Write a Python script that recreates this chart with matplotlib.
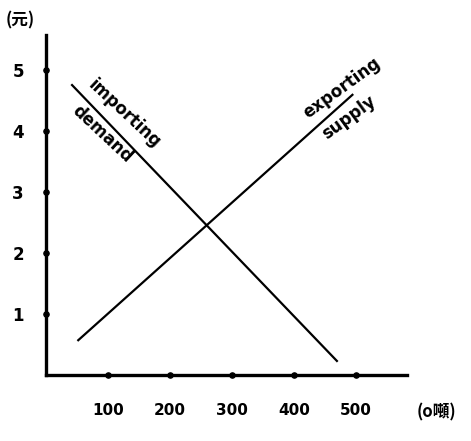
import matplotlib
matplotlib.use('Agg')
import matplotlib.pyplot as plt

plt.rcParams['font.family'] = ['DejaVu Sans', 'Noto Sans CJK TC']

# values
price_ticks = [1, 2, 3, 4, 5]
qty_ticks = [100, 200, 300, 400, 500]
demand_q = [42, 469]
demand_p = [4.75, 0.23]
supply_q = [52, 494]
supply_p = [0.57, 4.59]

fig = plt.figure(figsize=(4.71, 4.41), dpi=100)
ax = fig.add_axes([46 / 471, 66 / 441, 361 / 471, 340 / 441])

ax.plot(demand_q, demand_p, color='black', lw=1.6)
ax.plot(supply_q, supply_p, color='black', lw=1.6)

# dots on the axes where the ticks are
ax.scatter([0] * len(price_ticks), price_ticks, s=14, color='black', clip_on=False, zorder=5)
ax.scatter(qty_ticks, [0] * len(qty_ticks), s=14, color='black', clip_on=False, zorder=5)

ax.set_xlim(0, 582)
ax.set_ylim(0, 5.57)
for s in ('top', 'right'):
    ax.spines[s].set_visible(False)
for s in ('left', 'bottom'):
    ax.spines[s].set_linewidth(2.4)

ax.set_xticks(qty_ticks)
ax.set_yticks(price_ticks)
ax.tick_params(length=0, labelsize=12)
ax.tick_params(axis='x', pad=20, labelsize=11)
ax.tick_params(axis='y', pad=16)
for lab in ax.get_xticklabels() + ax.get_yticklabels():
    lab.set_fontweight('bold')

fig.text(20 / 471, 1 - 20 / 441, '(元)', fontsize=12, fontweight='bold',
         ha='center', va='center', family=['Noto Sans CJK TC', 'DejaVu Sans'])
fig.text(436 / 471, 1 - 412 / 441, '(o噸)', fontsize=12, fontweight='bold',
         ha='center', va='center', family=['Noto Sans CJK TC', 'DejaVu Sans'])

ax.text(126, 4.28, 'importing', rotation=-43, fontsize=12, fontweight='bold',
        ha='center', va='center', rotation_mode='anchor')
ax.text(90, 3.95, 'demand', rotation=-43, fontsize=12, fontweight='bold',
        ha='center', va='center', rotation_mode='anchor')
ax.text(477, 4.70, 'exporting', rotation=36, fontsize=12, fontweight='bold',
        ha='center', va='center', rotation_mode='anchor')
ax.text(489, 4.21, 'supply', rotation=36, fontsize=12, fontweight='bold',
        ha='center', va='center', rotation_mode='anchor')

fig.savefig('out.png', dpi=100)
